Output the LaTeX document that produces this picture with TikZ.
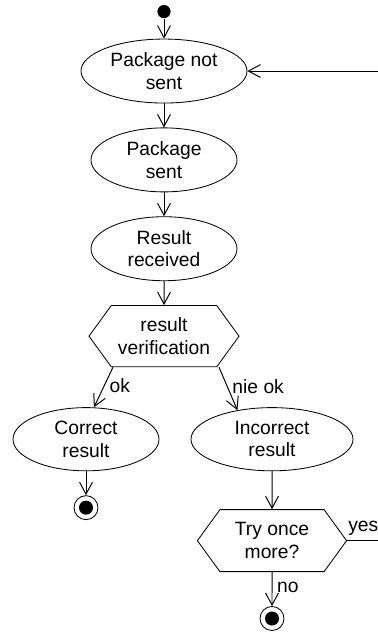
\documentclass[tikz,border=0pt]{standalone}
\usepackage{fontspec}
\setmainfont{Liberation Sans}
\usetikzlibrary{shapes.geometric,shapes.symbols,positioning,arrows.meta}

\begin{document}
\begin{tikzpicture}[
  >={Straight Barb[length=3mm,width=3.2mm]},
  font=\fontsize{13.7}{16}\selectfont,
  line width=0.6pt,
  node distance=6mm,
  state/.style={draw,ellipse,align=center,inner sep=0pt,minimum height=16mm},
  check/.style={signal,signal to=west and east,signal pointer angle=108,
    draw,align=center,inner sep=0pt,minimum width=37.5mm,minimum height=15.3mm},
  initial/.style={circle,fill=black,minimum size=3.3mm,inner sep=0pt},
  final/.style={circle,draw,minimum size=6mm,inner sep=0pt,
    path picture={\fill (path picture bounding box.center) circle (1.75mm);}},
  flow/.style={->,line width=0.7pt}
]
  \useasboundingbox (0,0) rectangle (94.5mm,-158mm);
  \clip (0,0) rectangle (94.5mm,-158mm);

  \node[initial] (start) at (41mm,-2.9mm) {};
  \node[state,below=5mm of start,minimum width=41.5mm] (notsent) {Package not\\sent};
  \node[state,below=of notsent,minimum width=36.5mm] (sent) {Package\\sent};
  \node[state,below=of sent,minimum width=36.5mm] (received) {Result\\received};
  \node[check,below=of received] (verify) {result\\verification};
  \node[state,below=10mm of verify,xshift=-19.5mm,minimum width=36.5mm,minimum height=15.8mm] (correct) {Correct\\result};
  \node[state,below=10mm of verify,xshift=27mm,minimum width=40.5mm,minimum height=15.8mm] (incorrect) {Incorrect\\result};
  \node[check,below=9.5mm of incorrect,minimum width=37.3mm,minimum height=15.5mm] (retry) {Try once\\more?};
  \node[final,below=of correct] (endok) {};
  \node[final,below=8.5mm of retry] (endfail) {};

  \draw[flow] (start) -- (notsent);
  \draw[flow] (notsent) -- (sent);
  \draw[flow] (sent) -- (received);
  \draw[flow] (received) -- (verify);
  \draw[flow] ([xshift=-12.75mm]verify.south) -- node[right,pos=.45]{ok} (correct.76);
  \draw[flow] ([xshift=13.75mm]verify.south) -- node[right,pos=.45]{nie ok} (incorrect.140);
  \draw[flow] (correct) -- (endok);
  \draw[flow] (incorrect) -- (retry);
  \draw[flow] (retry) -- node[right,pos=.45]{no} (endfail);
  \draw[flow] (retry.east) -- node[pos=0,anchor=south west,inner xsep=0.5pt]{yes} ++(20mm,0) |- (notsent.east);
\end{tikzpicture}
\end{document}
